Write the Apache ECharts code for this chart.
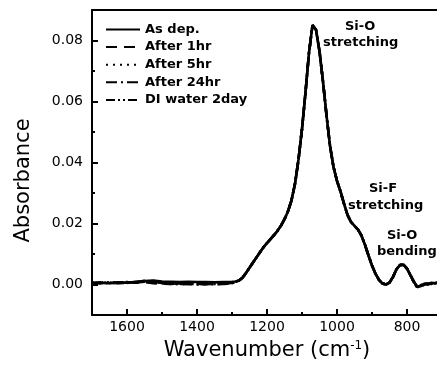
<!DOCTYPE html>
<html>
<head>
<meta charset="utf-8">
<script src="https://cdn.jsdelivr.net/npm/echarts@6/dist/echarts.min.js"></script>
<style>
  html, body { margin: 0; padding: 0; background: #fff; overflow: hidden; }
  /* plot is clipped on the right in the reference, so the canvas runs a few px past the window */
  #myChart { width: 442px; height: 375px; }
</style>
</head>
<body>
<div id="myChart"></div>
<script>
// wavenumber (cm-1), shared by all curves
var wn = [1700,1675,1650,1625,1600,1575,1550,1525,1500,1475,1450,1425,1400,1375,1350,1325,1300,
  1290,1280,1270,1260,1250,1240,1230,1220,1210,1200,1190,1180,1170,1160,1150,1140,1130,1120,1110,1100,
  1090,1080,1070,1060,1050,1040,1030,1020,1010,1000,990,980,970,960,950,940,930,920,910,900,
  890,880,870,860,850,840,830,820,810,800,790,780,770,760,750,740,730,720,710,700];

// absorbance
var asDep = [0.0005,0.0006,0.0004,0.0007,0.0006,0.0009,0.0011,0.0013,0.0010,0.0009,0.0008,0.0009,0.0008,0.0008,0.0007,0.0008,0.0009,
  0.0010,0.0013,0.0022,0.0038,0.0055,0.0072,0.0089,0.0106,0.0122,0.0136,0.0149,0.0162,0.0176,0.0193,0.0214,0.0240,0.0276,0.0330,0.0410,0.0510,
  0.0630,0.0760,0.0850,0.0835,0.0765,0.0665,0.0555,0.0455,0.0385,0.0340,0.0305,0.0265,0.0228,0.0205,0.0192,0.0180,0.0160,0.0130,0.0095,0.0062,
  0.0035,0.0015,0.0003,0.0000,0.0006,0.0025,0.0050,0.0064,0.0065,0.0052,0.0030,0.0008,-0.0008,-0.0005,0.0003,0.0001,0.0006,0.0004,0.0007,0.0005];
var after1hr = [0.0004,0.0005,0.0006,0.0005,0.0007,0.0006,0.0008,0.0004,0.0003,0.0002,0.0003,0.0001,0.0002,0.0001,0.0002,0.0003,0.0006,
  0.0009,0.0013,0.0022,0.0038,0.0055,0.0072,0.0089,0.0106,0.0122,0.0136,0.0149,0.0162,0.0176,0.0193,0.0214,0.0240,0.0276,0.0330,0.0410,0.0510,
  0.0630,0.0760,0.0850,0.0835,0.0765,0.0665,0.0555,0.0455,0.0385,0.0340,0.0305,0.0265,0.0228,0.0205,0.0192,0.0180,0.0160,0.0130,0.0095,0.0062,
  0.0035,0.0015,0.0003,0.0000,0.0006,0.0025,0.0050,0.0064,0.0065,0.0052,0.0030,0.0008,-0.0010,-0.0003,0.0001,0.0003,0.0004,0.0006,0.0005,0.0006];
var after5hr = [0.0006,0.0004,0.0005,0.0006,0.0005,0.0008,0.0010,0.0006,0.0004,0.0002,0.0001,0.0002,0.0000,0.0001,0.0002,0.0001,0.0005,
  0.0009,0.0013,0.0022,0.0038,0.0055,0.0072,0.0089,0.0106,0.0122,0.0136,0.0149,0.0162,0.0176,0.0193,0.0214,0.0240,0.0276,0.0330,0.0410,0.0510,
  0.0630,0.0760,0.0850,0.0835,0.0765,0.0665,0.0555,0.0455,0.0385,0.0340,0.0305,0.0265,0.0228,0.0205,0.0192,0.0180,0.0160,0.0130,0.0095,0.0062,
  0.0035,0.0015,0.0003,0.0000,0.0006,0.0025,0.0050,0.0064,0.0065,0.0052,0.0030,0.0006,-0.0012,-0.0004,0.0002,0.0000,0.0005,0.0003,0.0006,0.0004];
var after24hr = [0.0005,0.0005,0.0007,0.0004,0.0006,0.0007,0.0012,0.0009,0.0005,0.0003,0.0004,0.0002,0.0003,0.0002,0.0001,0.0002,0.0004,
  0.0009,0.0013,0.0022,0.0038,0.0055,0.0072,0.0089,0.0106,0.0122,0.0136,0.0149,0.0162,0.0176,0.0193,0.0214,0.0240,0.0276,0.0330,0.0410,0.0510,
  0.0630,0.0760,0.0850,0.0835,0.0765,0.0665,0.0555,0.0455,0.0385,0.0340,0.0305,0.0265,0.0228,0.0205,0.0192,0.0180,0.0160,0.0130,0.0095,0.0062,
  0.0035,0.0015,0.0003,0.0000,0.0006,0.0025,0.0050,0.0064,0.0065,0.0052,0.0030,0.0009,-0.0006,-0.0007,0.0000,0.0002,0.0003,0.0005,0.0004,0.0006];
var diWater = [0.0004,0.0006,0.0005,0.0006,0.0008,0.0007,0.0009,0.0011,0.0006,0.0004,0.0002,0.0003,0.0001,0.0003,0.0002,0.0003,0.0005,
  0.0009,0.0013,0.0022,0.0038,0.0055,0.0072,0.0089,0.0106,0.0122,0.0136,0.0149,0.0162,0.0176,0.0193,0.0214,0.0240,0.0276,0.0330,0.0410,0.0510,
  0.0630,0.0760,0.0850,0.0835,0.0765,0.0665,0.0555,0.0455,0.0385,0.0340,0.0305,0.0265,0.0228,0.0205,0.0192,0.0180,0.0160,0.0130,0.0095,0.0062,
  0.0035,0.0015,0.0003,0.0000,0.0006,0.0025,0.0050,0.0064,0.0065,0.0052,0.0030,0.0007,-0.0009,-0.0002,0.0001,0.0004,0.0002,0.0005,0.0006,0.0005];

var seriesNames = ['As dep.', 'After 1hr', 'After 5hr', 'After 24hr', 'DI water 2day'];
var seriesData = [asDep, after1hr, after5hr, after24hr, diWater];
// line dash for each curve
var dashes = ['solid', [11, 7], [2, 5], [11, 4, 2, 4], [9, 3, 2, 3, 2, 3]];

var xMajor = [1600, 1400, 1200, 1000, 800];
var xMinor = [1700, 1500, 1300, 1100, 900, 700];
var yMajor = [0, 0.02, 0.04, 0.06, 0.08];
var yMinor = [0.01, 0.03, 0.05, 0.07, 0.09];
var yBottom = -0.01;

var myChart = echarts.init(document.getElementById('myChart'));

var series = seriesNames.map(function (name, i) {
    return {
        name: name,
        type: 'line',
        xAxisIndex: 0,
        yAxisIndex: 0,
        showSymbol: false,
        symbol: 'none',
        z: 10 - i,
        lineStyle: { color: '#000', width: 2.6, type: dashes[i] },
        itemStyle: { color: '#000' },
        data: wn.map(function (w, j) { return [w, seriesData[i][j]]; })
    };
});

var boldText = 'bold 13px "DejaVu Sans"';
var blackLine = { color: '#000', width: 2 };

// peak annotations
var notes = [
    { type: 'text', left: 362 - 17, top: 20, style: { text: 'Si-O', font: boldText, fill: '#000' } },
    { type: 'text', left: 323, top: 36, style: { text: 'stretching', font: boldText, fill: '#000' } },
    { type: 'text', left: 385 - 16, top: 182, style: { text: 'Si-F', font: boldText, fill: '#000' } },
    { type: 'text', left: 348, top: 199, style: { text: 'stretching', font: boldText, fill: '#000' } },
    { type: 'text', left: 404 - 17, top: 229, style: { text: 'Si-O', font: boldText, fill: '#000' } },
    { type: 'text', left: 377, top: 245, style: { text: 'bending', font: boldText, fill: '#000' } }
];

myChart.setOption({
    animation: false,
    backgroundColor: '#fff',
    // frame comes from the axis lines (top, left, bottom); right side is cut off
    grid: { left: 92, right: 0, top: 10, bottom: 60, show: false },
    legend: {
        orient: 'vertical',
        left: 105, top: 23, padding: 0,
        itemWidth: 34, itemHeight: 14, itemGap: 4.6,
        data: seriesNames,
        itemStyle: { opacity: 0 },
        lineStyle: { width: 2 },
        textStyle: { fontFamily: 'DejaVu Sans', fontWeight: 'bold', fontSize: 13, color: '#000' }
    },
    xAxis: [{
        type: 'value', inverse: true, min: 700, max: 1700, interval: 100,
        position: 'bottom',
        name: 'Wavenumber (cm{sup|-1})', nameLocation: 'middle', nameGap: 25,
        nameTextStyle: {
            fontFamily: 'DejaVu Sans', fontSize: 21, color: '#000',
            rich: { sup: { fontFamily: 'DejaVu Sans', fontSize: 12, verticalAlign: 'top', padding: [0, 0, 10, 0] } }
        },
        axisLine: { show: true, onZero: false, lineStyle: blackLine },
        axisTick: { show: true, inside: true, length: 6, lineStyle: blackLine, customValues: xMajor },
        axisLabel: {
            margin: 5, fontFamily: 'DejaVu Sans', fontSize: 14, color: '#000', customValues: xMajor,
            formatter: function (v) { return String(v); }
        },
        splitLine: { show: false }
    }, {
        type: 'value', inverse: true, min: 700, max: 1700,
        position: 'top',
        axisLine: { show: true, onZero: false, lineStyle: blackLine },
        axisTick: { show: false },
        axisLabel: { show: false },
        splitLine: { show: false }
    }],
    yAxis: [{
        type: 'value', min: yBottom, max: 0.09, interval: 0.01,
        position: 'left',
        name: 'Absorbance', nameLocation: 'middle', nameGap: 58,
        nameTextStyle: { fontFamily: 'DejaVu Sans', fontSize: 21, color: '#000', padding: [0, 36, 0, 0] },
        axisLine: { show: true, onZero: false, lineStyle: blackLine },
        axisTick: { show: true, inside: true, length: 6, lineStyle: blackLine, customValues: yMajor },
        axisLabel: {
            margin: 9, fontFamily: 'DejaVu Sans', fontSize: 14, color: '#000', customValues: yMajor,
            formatter: function (v) { return v.toFixed(2); }
        },
        splitLine: { show: false }
    }, {
        type: 'value', min: yBottom, max: 0.09, interval: 0.01,
        position: 'left',
        axisLine: { show: false, onZero: false },
        axisTick: { show: true, inside: true, length: 3, lineStyle: blackLine, customValues: yMinor },
        axisLabel: { show: false },
        splitLine: { show: false }
    }],
    graphic: notes,
    series: series
});

// x ticks on the bottom edge, placed with the chart's own x scale
var xTicks = [];
function addTicks(values, len) {
    values.forEach(function (v) {
        var p = myChart.convertToPixel({ gridIndex: 0 }, [v, yBottom]);
        if (!p) { return; }
        xTicks.push({
            type: 'line', z: 100, silent: true,
            shape: { x1: p[0], y1: p[1] - 1, x2: p[0], y2: p[1] - len },
            style: { stroke: '#000', lineWidth: 2 }
        });
    });
}
try {
    addTicks(xMajor, 6);
    addTicks(xMinor, 3);
    myChart.setOption({ graphic: notes.concat(xTicks) }, { replaceMerge: ['graphic'] });
} catch (e) {
    console.log(e);
}
</script>
</body>
</html>
